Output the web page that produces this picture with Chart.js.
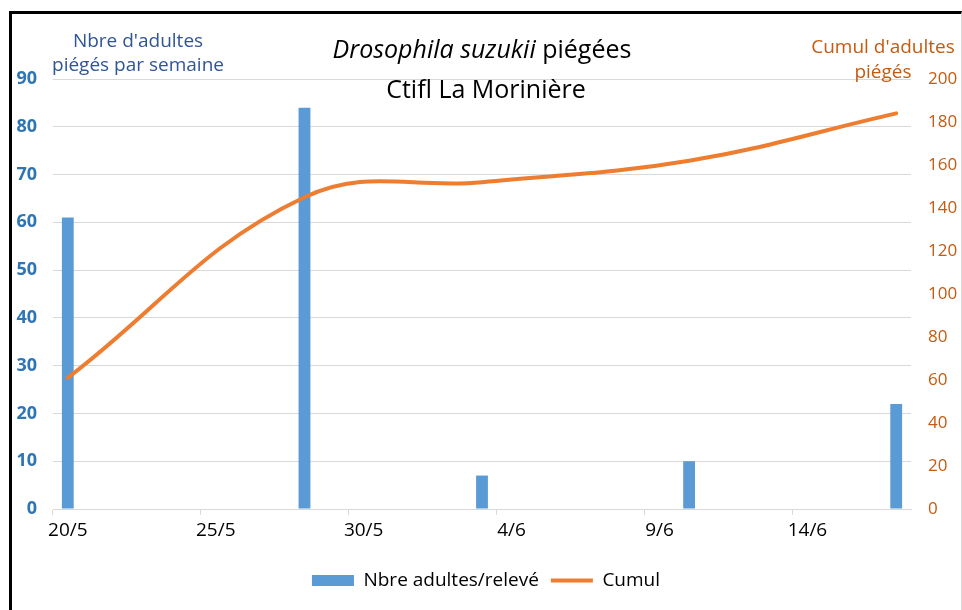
<!DOCTYPE html>
<html lang="fr">
<head>
<meta charset="UTF-8">
<title>Drosophila suzukii piégées - Ctifl La Morinière</title>
<script src="https://cdn.jsdelivr.net/npm/chart.js@4.4.1/dist/chart.umd.min.js"></script>
<style>
    body {
        margin: 0;
        background: #fff;
        font-family: 'Open Sans', sans-serif;
    }

    .cadre {
        position: absolute;
        left: 9px;
        top: 11px;
        width: 949px;
        height: 610px;
        border-top: 3px solid #000;
        border-left: 3px solid #000;
        border-right: 1px solid #d9d9d9;
    }

    .zone {
        position: absolute;
        left: 0;
        top: 0;
        width: 962px;
        height: 610px;
    }
</style>
</head>
<body>
<div class="cadre"></div>
<div class="zone"><canvas id="piegeages"></canvas></div>

<script>
    // jours de l'axe (20 mai -> 17 juin)
    const jours = ['20/5', '21/5', '22/5', '23/5', '24/5', '25/5', '26/5', '27/5', '28/5', '29/5',
        '30/5', '31/5', '1/6', '2/6', '3/6', '4/6', '5/6', '6/6', '7/6', '8/6',
        '9/6', '10/6', '11/6', '12/6', '13/6', '14/6', '15/6', '16/6', '17/6'];

    // relevés du piège
    const datesReleves = ['20/5', '28/5', '3/6', '10/6', '17/6'];
    const adultesParReleve = [61, 84, 7, 10, 22];
    const cumulAdultes = [61, 145, 152, 162, 184];

    const BLEU = '#5B9BD5';
    const ORANGE = '#ED7D31';
    const GRILLE = '#d9d9d9';

    Chart.defaults.font.family = "'Open Sans', sans-serif";

    // titres dessinés à la main (partie en italique + titres d'axes)
    const titres = {
        id: 'titres',
        afterDraw(chart) {
            const ctx = chart.ctx;
            ctx.save();
            ctx.textBaseline = 'alphabetic';

            // titre principal
            ctx.fillStyle = '#000';
            const espece = 'Drosophila suzukii';
            const suite = ' piégées';
            ctx.font = 'italic 25px "Open Sans"';
            const w1 = ctx.measureText(espece).width;
            ctx.font = '25px "Open Sans"';
            const w2 = ctx.measureText(suite).width;
            const x = 482 - (w1 + w2) / 2;
            ctx.font = 'italic 25px "Open Sans"';
            ctx.textAlign = 'left';
            ctx.fillText(espece, x, 58);
            ctx.font = '25px "Open Sans"';
            ctx.fillText(suite, x + w1, 58);
            ctx.textAlign = 'center';
            ctx.fillText('Ctifl La Morinière', 486, 98);

            // titre axe gauche
            ctx.fillStyle = '#2F5597';
            ctx.font = '19px "Open Sans"';
            ctx.fillText("Nbre d'adultes", 138, 47);
            ctx.fillText('piégés par semaine', 138, 71);

            // titre axe droit
            ctx.fillStyle = '#C55A11';
            ctx.fillText("Cumul d'adultes", 883, 53);
            ctx.fillText('piégés', 883, 78);
            ctx.restore();
        }
    };

    const ctx = document.getElementById('piegeages').getContext('2d');
    new Chart(ctx, {
        type: 'bar',
        data: {
            labels: jours,
            datasets: [{
                type: 'line',
                label: 'Cumul',
                data: datesReleves.map((d, i) => ({ x: d, y: cumulAdultes[i] })),
                yAxisID: 'y1',
                borderColor: ORANGE,
                backgroundColor: ORANGE,
                borderWidth: 4,
                pointRadius: 0,
                tension: 0.4,
                borderCapStyle: 'round',
                order: 0
            }, {
                type: 'bar',
                label: 'Nbre adultes/relevé',
                data: datesReleves.map((d, i) => ({ x: d, y: adultesParReleve[i] })),
                yAxisID: 'y',
                backgroundColor: BLEU,
                barPercentage: 0.4,
                categoryPercentage: 1,
                order: 1
            }]
        },
        options: {
            responsive: true,
            maintainAspectRatio: false,
            animation: false,
            layout: {
                padding: { left: 10, right: 0, top: 79, bottom: 10 }
            },
            plugins: {
                tooltip: { enabled: false },
                legend: {
                    position: 'bottom',
                    reverse: true,
                    labels: {
                        color: '#000',
                        font: { size: 19 },
                        usePointStyle: true,
                        pointStyleWidth: 42,
                        boxHeight: 11,
                        boxWidth: 42,
                        padding: 12,
                        generateLabels(chart) {
                            const items = Chart.defaults.plugins.legend.labels.generateLabels(chart);
                            items.forEach(it => {
                                const ds = chart.data.datasets[it.datasetIndex];
                                if (ds.type === 'line') {
                                    it.pointStyle = 'line';
                                    it.lineWidth = 4;
                                    it.strokeStyle = ORANGE;
                                } else {
                                    it.pointStyle = 'rect';
                                    it.lineWidth = 0;
                                }
                            });
                            return items;
                        }
                    }
                }
            },
            scales: {
                x: {
                    type: 'category',
                    offset: true,
                    grid: {
                        offset: true,
                        drawOnChartArea: false,
                        tickLength: 6,
                        color: c => (c.index % 5 === 0 ? GRILLE : 'rgba(0,0,0,0)')
                    },
                    border: { color: GRILLE, width: 1 },
                    ticks: {
                        autoSkip: false,
                        maxRotation: 0,
                        color: '#000',
                        font: { size: 19 },
                        padding: 4,
                        callback: (v, i) => (i % 5 === 0 ? jours[i] : '')
                    },
                    afterFit(scale) { scale.height = 50; }
                },
                y: {
                    position: 'left',
                    min: 0,
                    max: 90,
                    ticks: {
                        stepSize: 10,
                        color: '#2E75B6',
                        font: { size: 18, weight: 'bold' },
                        padding: 16
                    },
                    grid: { color: GRILLE, drawTicks: false },
                    border: { display: false },
                    afterFit(scale) { scale.width = 43; }
                },
                y1: {
                    position: 'right',
                    min: 0,
                    max: 200,
                    ticks: {
                        stepSize: 20,
                        color: '#C55A11',
                        font: { size: 17 },
                        padding: 17
                    },
                    grid: { drawOnChartArea: false, drawTicks: false },
                    border: { display: false },
                    afterFit(scale) { scale.width = 51; }
                }
            }
        },
        plugins: [titres]
    });
</script>
</body>
</html>
